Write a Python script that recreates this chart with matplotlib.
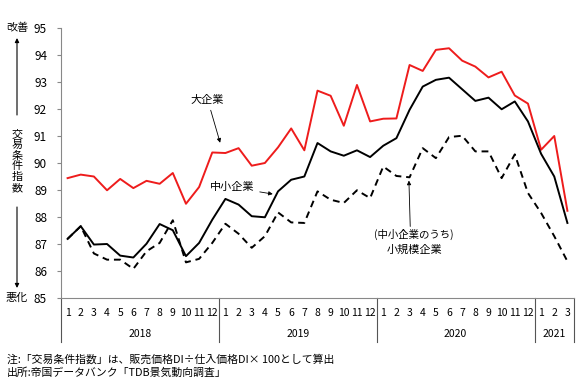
import numpy as np
import matplotlib.pyplot as plt
from matplotlib.patches import FancyArrowPatch
from matplotlib.transforms import blended_transform_factory

plt.rcParams['font.family'] = ['Noto Sans CJK JP', 'DejaVu Sans']

# Monthly values, Jan 2018 - Mar 2021
years = ['2018', '2019', '2020', '2021']
months_per_year = [12, 12, 12, 3]
month_labels = [str(m) for n in months_per_year for m in range(1, n + 1)]

large = [89.44, 89.57, 89.50, 88.99, 89.41, 89.07, 89.34, 89.23, 89.63, 88.49, 89.11, 90.39,
         90.37, 90.55, 89.90, 90.00, 90.58, 91.28, 90.47, 92.68, 92.49, 91.38, 92.89, 91.54,
         91.64, 91.65, 93.63, 93.41, 94.19, 94.25, 93.79, 93.57, 93.17, 93.38, 92.50, 92.20,
         90.49, 91.00, 88.23]
sme = [87.19, 87.66, 86.98, 87.00, 86.57, 86.50, 87.01, 87.74, 87.51, 86.55, 87.04, 87.90,
       88.67, 88.46, 88.03, 87.99, 88.95, 89.38, 89.50, 90.74, 90.43, 90.27, 90.47, 90.22,
       90.64, 90.92, 91.97, 92.83, 93.08, 93.16, 92.73, 92.30, 92.42, 91.99, 92.28, 91.54,
       90.34, 89.50, 87.78]
small = [87.19, 87.66, 86.65, 86.42, 86.42, 86.08, 86.73, 87.04, 87.88, 86.32, 86.45, 87.04,
         87.75, 87.38, 86.86, 87.29, 88.17, 87.80, 87.78, 88.95, 88.64, 88.52, 88.99, 88.70,
         89.87, 89.52, 89.47, 90.55, 90.18, 90.96, 91.01, 90.43, 90.43, 89.44, 90.32, 88.89,
         88.15, 87.29, 86.36]

x = np.arange(len(large)) + 0.5

fig = plt.figure(figsize=(5.86, 3.83), dpi=100)
ax = fig.add_axes([0.1041, 0.2219, 0.8754, 0.705])

ax.plot(x, large, color='#ee1c1c', lw=1.4)
ax.plot(x, sme, color='black', lw=1.4)
ax.plot(x, small, color='black', lw=1.4, dashes=(3.5, 2.5))

ax.set_xlim(0, len(large))
ax.set_ylim(85, 95)
ax.set_yticks(range(85, 96))
ax.tick_params(axis='y', length=3, pad=7, labelsize=8.5, color='#888888')
for s in ['top', 'right']:
    ax.spines[s].set_visible(False)
ax.spines['left'].set_color('#888888')
ax.spines['bottom'].set_color('#888888')
ax.set_xticks([])

# two-level category axis
tr = blended_transform_factory(ax.transData, ax.transAxes)
for xi, lab in zip(x, month_labels):
    ax.text(xi, -0.056, lab, transform=tr, ha='center', va='center', fontsize=7.5)
edges = np.concatenate([[0], np.cumsum(months_per_year)])
for e in edges:
    ax.plot([e, e], [0, -0.163], transform=tr, color='#555555', lw=0.8, clip_on=False)
for i, yr in enumerate(years):
    ax.text((edges[i] + edges[i + 1]) / 2, -0.133, yr, transform=tr,
            ha='center', va='center', fontsize=7.5)

# series labels
arrow = dict(arrowstyle='-|>', lw=0.6, color='black', mutation_scale=6, shrinkA=2, shrinkB=0)
ax.annotate('大企業', xy=(12.1, 90.75), xytext=(11.15, 92.34),
            ha='center', va='center', fontsize=8, arrowprops=arrow)
ax.annotate('中小企業', xy=(16.1, 88.85), xytext=(13.0, 89.1),
            ha='center', va='center', fontsize=8, arrowprops=arrow)
ax.annotate('', xy=(26.45, 89.35), xytext=(26.55, 87.65),
            arrowprops=dict(arrow, shrinkA=0))
ax.text(26.85, 87.35, '(中小企業のうち)', ha='center', va='center', fontsize=7.5)
ax.text(26.85, 86.8, '小規模企業', ha='center', va='center', fontsize=8)

# vertical axis caption
fig.text(17 / 586, 1 - 28 / 383, '改善', ha='center', va='center', fontsize=8)
fig.text(17 / 586, 1 - 298 / 383, '悪化', ha='center', va='center', fontsize=8)
fig.text(17 / 586, 1 - 161 / 383, '交\n易\n条\n件\n指\n数', ha='center', va='center',
         fontsize=8, linespacing=1.1)
arr = dict(arrowstyle='-|>', lw=0.8, color='black', mutation_scale=6, shrinkA=0, shrinkB=0)
fig.add_artist(FancyArrowPatch((17 / 586, 1 - 115 / 383), (17 / 586, 1 - 38 / 383),
                               transform=fig.transFigure, **arr))
fig.add_artist(FancyArrowPatch((17 / 586, 1 - 207 / 383), (17 / 586, 1 - 288 / 383),
                               transform=fig.transFigure, **arr))

fig.text(7 / 586, 1 - 359 / 383, '注:「交易条件指数」は、販売価格DI÷仕入価格DI× 100として算出',
         ha='left', va='center', fontsize=7.8)
fig.text(7 / 586, 1 - 373 / 383, '出所:帝国データバンク「TDB景気動向調査」',
         ha='left', va='center', fontsize=7.8)

fig.savefig('out.png', dpi=100)
